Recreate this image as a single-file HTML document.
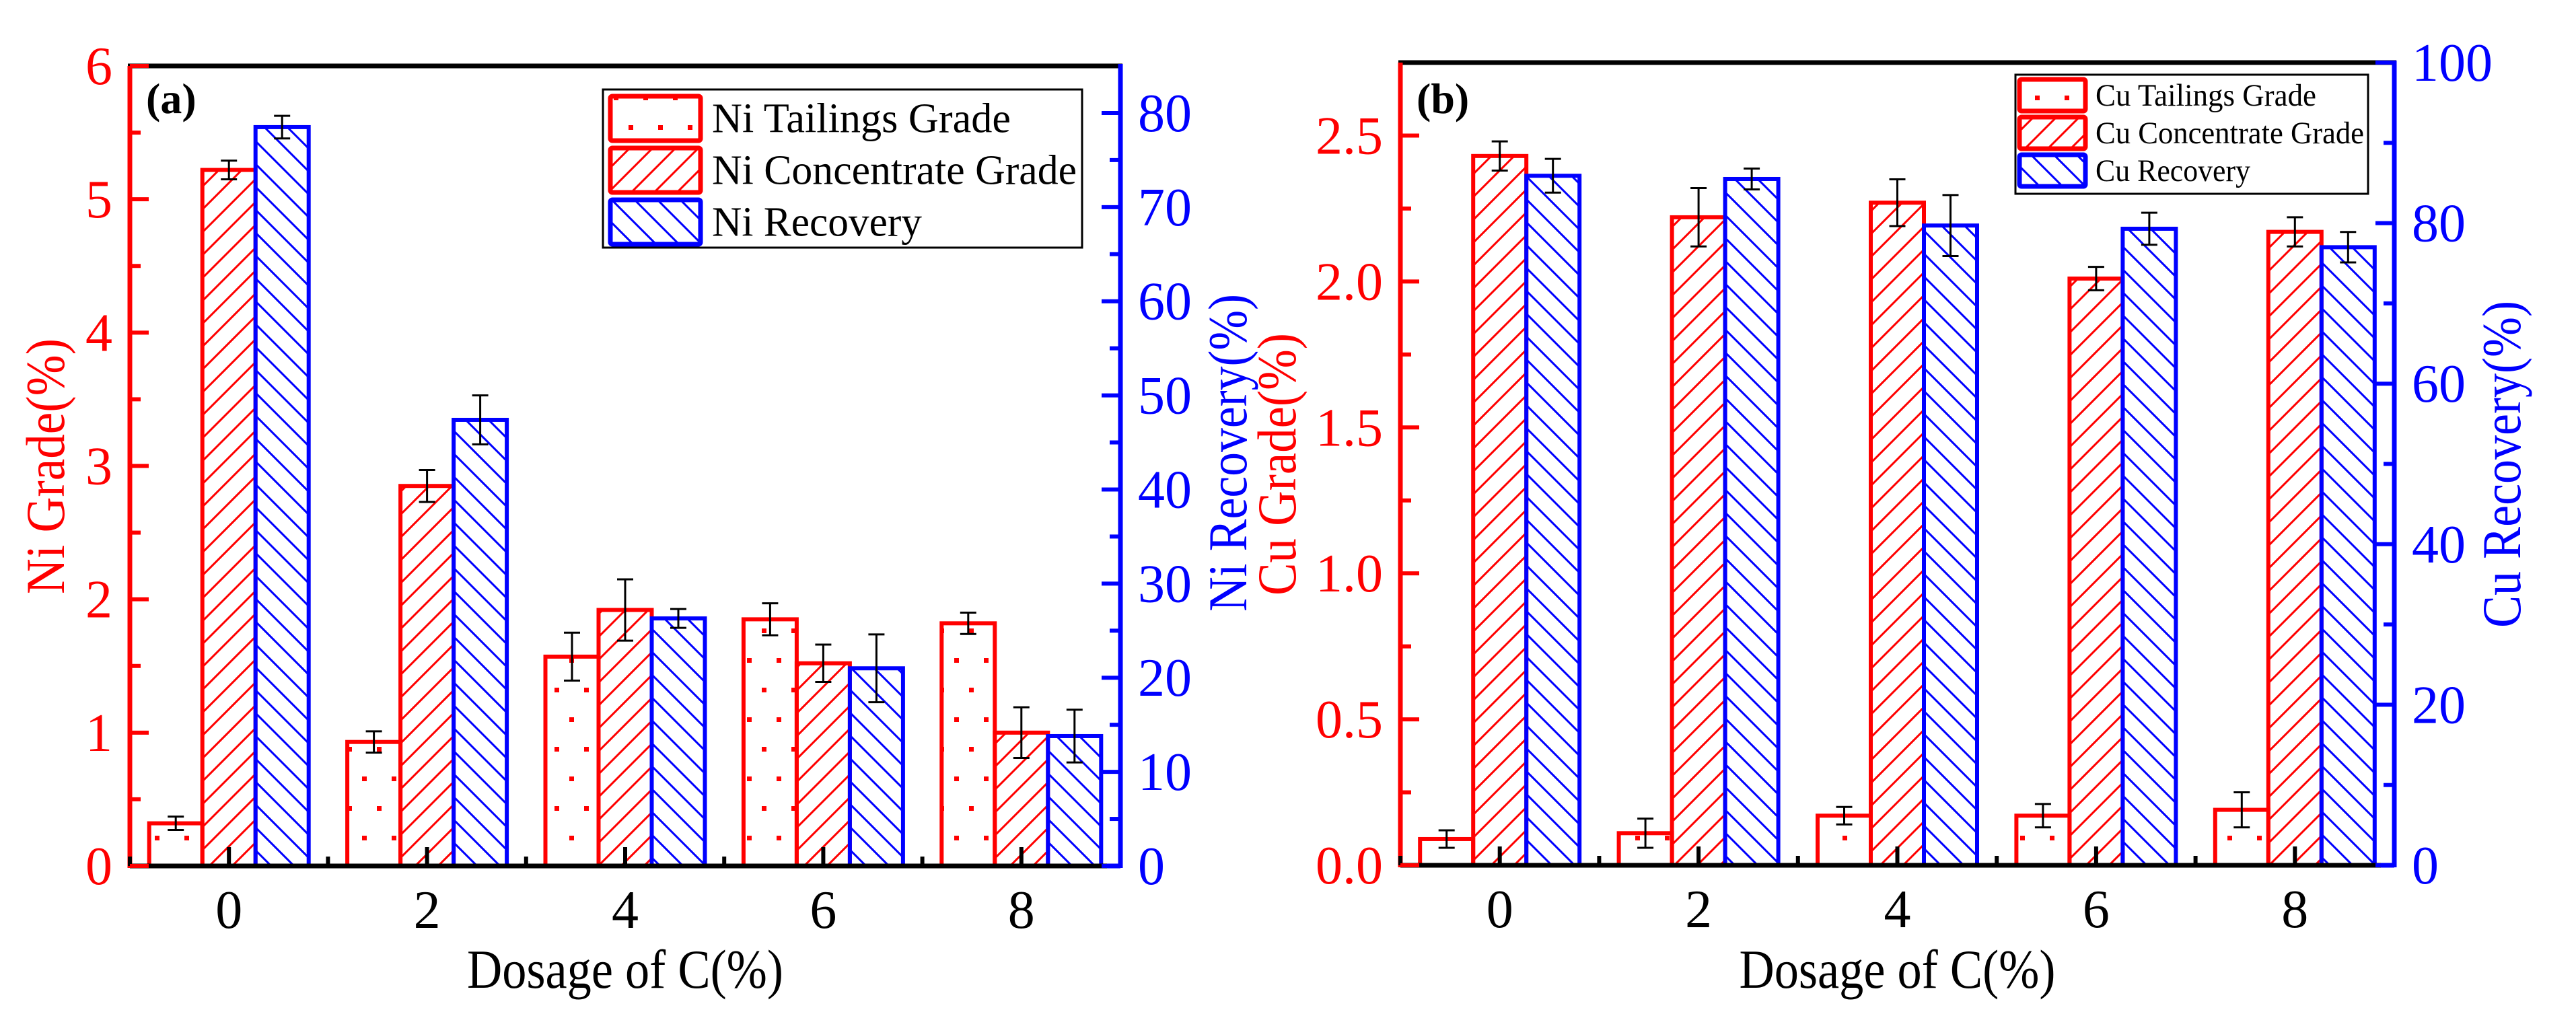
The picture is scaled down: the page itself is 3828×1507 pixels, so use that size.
<!DOCTYPE html>
<html><head><meta charset="utf-8"><title>Ni and Cu grade and recovery vs. dosage of C</title>
<style>
html,body{margin:0;padding:0;background:#fff;}
svg{display:block;}
svg text{font-family:"Liberation Serif","DejaVu Serif","Noto Serif CJK SC",serif;}
</style></head>
<body>
<svg id="chart" width="3828" height="1507" viewBox="0 0 3828 1507" xmlns="http://www.w3.org/2000/svg">
<defs>
<pattern id="dots" patternUnits="userSpaceOnUse" width="44" height="88">
<rect x="10" y="10" width="7" height="7" fill="#f00"/><rect x="32" y="54" width="7" height="7" fill="#f00"/>
</pattern>
<pattern id="fwd" patternUnits="userSpaceOnUse" width="34" height="34">
<path d="M-9,43 L43,-9 M-26,26 L26,-26 M8,60 L60,8" stroke="#f00" stroke-width="3"/>
</pattern>
<pattern id="bwd" patternUnits="userSpaceOnUse" width="34" height="34">
<path d="M-9,-9 L43,43 M-26,8 L26,60 M8,-26 L60,26" stroke="#00f" stroke-width="3"/>
</pattern>
</defs>
<g id="panelA"></g>
<g id="panelB"></g>
</svg>
<script>
// ---- data ----
const categories = ["0","2","4","6","8"];
const niTailings = [0.32, 0.93, 1.57, 1.85, 1.82];
const niTailingsErr = [0.05, 0.08, 0.18, 0.12, 0.08];
const niConc = [5.22, 2.85, 1.92, 1.52, 1.00];
const niConcErr = [0.07, 0.12, 0.23, 0.14, 0.19];
const niRec = [78.5, 47.4, 26.3, 21.0, 13.8];
const niRecErr = [1.2, 2.6, 1.0, 3.6, 2.8];
const cuTailings = [0.09, 0.11, 0.17, 0.17, 0.19];
const cuTailingsErr = [0.03, 0.05, 0.03, 0.04, 0.06];
const cuConc = [2.43, 2.22, 2.27, 2.01, 2.17];
const cuConcErr = [0.05, 0.10, 0.08, 0.04, 0.05];
const cuRec = [85.9, 85.5, 79.7, 79.3, 77.0];
const cuRecErr = [2.1, 1.3, 3.8, 2.0, 1.9];
const niLeftTicks = ["0","1","2","3","4","5","6"];
const niRightTicks = ["0","10","20","30","40","50","60","70","80"];
const cuLeftTicks = ["0.0","0.5","1.0","1.5","2.0","2.5"];
const cuRightTicks = ["0","20","40","60","80","100"];

const NS = "http://www.w3.org/2000/svg";
function mk(parent, tag, attrs, text){
  const e = document.createElementNS(NS, tag);
  for (const k in attrs) e.setAttribute(k, attrs[k]);
  if (tag === "text") e.style.fontFamily = '"Liberation Serif","DejaVu Serif",serif';
  if (text !== undefined) e.textContent = text;
  parent.appendChild(e);
  return e;
}

function panel(g, o){
  const {x0,x1,y0,y1,lmax,rmax} = o;
  const band = (x1-x0)/categories.length;
  const xc = i => x0 + (i+0.5)*band;
  const yl = v => y1 - v/lmax*(y1-y0);
  const yr = v => y1 - v/rmax*(y1-y0);
  const bw = 79;
  const series = [
    {vals:o.s1, err:o.e1, y:yl, fill:"url(#dots)", stroke:"#f00", name:"tailings-grade"},
    {vals:o.s2, err:o.e2, y:yl, fill:"url(#fwd)", stroke:"#f00", name:"concentrate-grade"},
    {vals:o.s3, err:o.e3, y:yr, fill:"url(#bwd)", stroke:"#00f", name:"recovery"}
  ];
  series.forEach((s,si)=>{
    s.vals.forEach((v,i)=>{
      const bx = xc(i) + (si-1.5)*bw;
      const top = s.y(v);
      const r = mk(g,"rect",{x:bx,y:top,width:bw,height:y1-top,fill:s.fill,stroke:s.stroke,"stroke-width":6});
      
      
      const cx = bx+bw/2, ea = s.y(v+s.err[i]), eb = s.y(v-s.err[i]);
      const eg = mk(g,"g",{stroke:"#000","stroke-width":3});
      
      
      mk(eg,"line",{x1:cx,y1:ea,x2:cx,y2:eb});
      mk(eg,"line",{x1:cx-12,y1:ea,x2:cx+12,y2:ea});
      mk(eg,"line",{x1:cx-12,y1:eb,x2:cx+12,y2:eb});
    });
  });
  const ax = mk(g,"g",{});
  
  
  mk(ax,"line",{x1:x0-3,y1:y0,x2:x1+3,y2:y0,stroke:"#000","stroke-width":7});
  mk(ax,"line",{x1:x0,y1:y1,x2:x1,y2:y1,stroke:"#000","stroke-width":7});
  mk(ax,"line",{x1:x1-20,y1:y1,x2:x1,y2:y1,stroke:"#00f","stroke-width":7});
  mk(ax,"line",{x1:x0,y1:y0,x2:x0,y2:y1+3,stroke:"#f00","stroke-width":7});
  mk(ax,"line",{x1:x1,y1:y0-3,x2:x1,y2:y1+3,stroke:"#00f","stroke-width":7});
  categories.forEach((c,i)=>{
    mk(ax,"line",{x1:xc(i),y1:y1,x2:xc(i),y2:y1-28,stroke:"#000","stroke-width":6});
    mk(ax,"line",{x1:x0+i*band,y1:y1,x2:x0+i*band,y2:y1-14,stroke:"#000","stroke-width":6});
    const t = mk(g,"text",{x:xc(i),y:y1+92,"font-size":80,"text-anchor":"middle",fill:"#000"},c);
    
    
  });
  o.lt.forEach((lab)=>{
    const v = parseFloat(lab), y = yl(v);
    mk(ax,"line",{x1:x0,y1:y,x2:x0+28,y2:y,stroke:"#f00","stroke-width":6});
    const m = v + o.lstep/2;
    if (m < lmax) mk(ax,"line",{x1:x0,y1:yl(m),x2:x0+16,y2:yl(m),stroke:"#f00","stroke-width":6});
    const t = mk(g,"text",{x:x0-26,y:y+27,"font-size":80,"text-anchor":"end",fill:"#f00"},lab);
    
    
  });
  o.rt.forEach((lab)=>{
    const v = parseFloat(lab), y = yr(v);
    mk(ax,"line",{x1:x1,y1:y,x2:x1-28,y2:y,stroke:"#00f","stroke-width":6});
    const m = v + o.rstep/2;
    if (m < rmax) mk(ax,"line",{x1:x1,y1:yr(m),x2:x1-16,y2:yr(m),stroke:"#00f","stroke-width":6});
    const t = mk(g,"text",{x:x1+26,y:y+27,"font-size":80,"text-anchor":"start",fill:"#00f"},lab);
    
    
  });
  let t = mk(g,"text",{x:(x0+x1)/2,y:1468,"font-size":82,"text-anchor":"middle",fill:"#000",textLength:470,lengthAdjust:"spacingAndGlyphs"},"Dosage of C(%)");
  
  
  t = mk(g,"text",{x:0,y:0,"font-size":82,"text-anchor":"middle",fill:"#f00",transform:`translate(${o.ltx},${o.lty}) rotate(-90)`,textLength:o.ltl,lengthAdjust:"spacingAndGlyphs"},o.ltitle);
  
  
  t = mk(g,"text",{x:0,y:0,"font-size":82,"text-anchor":"middle",fill:"#00f",transform:`translate(${o.rtx},${o.rty}) rotate(-90)`,textLength:o.rtl,lengthAdjust:"spacingAndGlyphs"},o.rtitle);
  
  
  t = mk(g,"text",{x:x0+24,y:168,"font-size":64,"font-weight":"bold",fill:"#000"},o.label);
  
  
  const L = o.leg;
  const lg = mk(g,"g",{});
  
  
  mk(lg,"rect",{x:L.x,y:L.y,width:L.w,height:L.h,fill:"#fff",stroke:"#000","stroke-width":3});
  series.forEach((s,si)=>{
    const sy = L.sy + si*L.dy;
    const e = mk(lg,"g",{});
    
    
    mk(e,"rect",{x:L.sx,y:sy,width:L.sw,height:L.sh,fill:s.fill,stroke:s.stroke,"stroke-width":7,rx:3});
    mk(e,"text",{x:L.tx,y:sy+L.sh*0.5+L.fs*0.33,"font-size":L.fs,fill:"#000",textLength:L.tl[si],lengthAdjust:"spacingAndGlyphs"},o.names[si]);
  });
}

panel(document.getElementById("panelA"),{
  x0:193,x1:1665,y0:98,y1:1287,lmax:6,rmax:85,lstep:1,rstep:10,
  s1:niTailings,e1:niTailingsErr,s2:niConc,e2:niConcErr,s3:niRec,e3:niRecErr,
  lt:niLeftTicks,rt:niRightTicks,ltitle:"Ni Grade(%)",rtitle:"Ni Recovery(%)",
  ltx:95,lty:693,ltl:380,rtx:1852,rty:673,rtl:472,label:"(a)",
  names:["Ni Tailings Grade","Ni Concentrate Grade","Ni Recovery"],
  leg:{x:896,y:133,w:712,h:235,sx:907,sy:143,dy:77,sw:134,sh:66,tx:1058,fs:62,tl:[444,542,312]}
});
panel(document.getElementById("panelB"),{
  x0:2081,x1:3558,y0:93,y1:1286,lmax:2.75,rmax:100,lstep:0.5,rstep:20,
  s1:cuTailings,e1:cuTailingsErr,s2:cuConc,e2:cuConcErr,s3:cuRec,e3:cuRecErr,
  lt:cuLeftTicks,rt:cuRightTicks,ltitle:"Cu Grade(%)",rtitle:"Cu Recovery(%)",
  ltx:1925,lty:690,ltl:390,rtx:3745,rty:690,rtl:486,label:"(b)",
  names:["Cu Tailings Grade","Cu Concentrate Grade","Cu Recovery"],
  leg:{x:2995,y:111,w:524,h:177,sx:3001,sy:118,dy:56,sw:98,sh:47,tx:3114,fs:47,tl:[328,399,230]}
});
</script>
</body></html>
